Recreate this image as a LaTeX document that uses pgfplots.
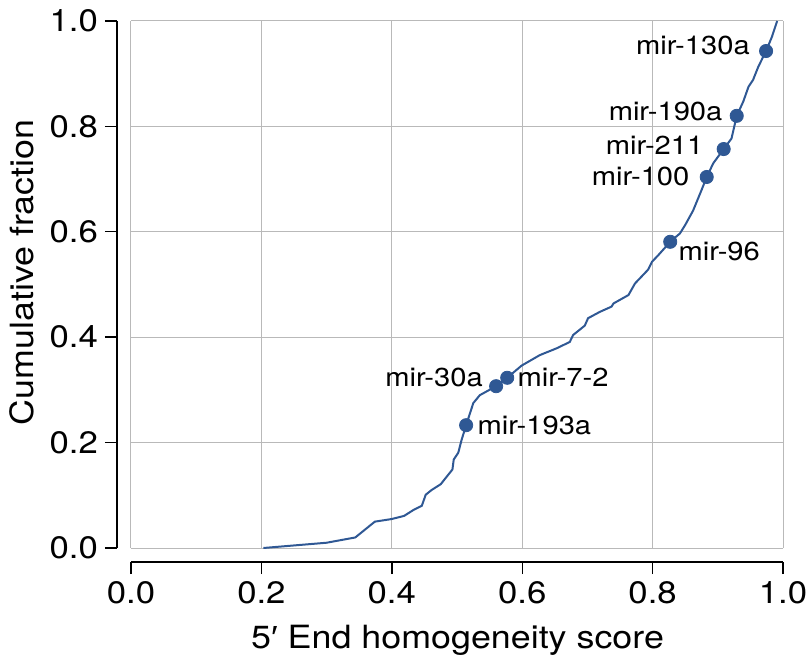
\documentclass[border=0pt]{standalone}
\usepackage{fontspec}
\setmainfont{TeX Gyre Heros}[FakeStretch=1.12]
\newfontfamily\libsans{Liberation Sans}[FakeStretch=1.12]
\usepackage{pgfplots}
\pgfplotsset{compat=1.18}
\definecolor{curve}{RGB}{47,88,148}
\pgfplotstableread{
x y
0.203 0.000
0.300 0.010
0.344 0.020
0.374 0.050
0.400 0.055
0.419 0.061
0.433 0.072
0.446 0.080
0.452 0.101
0.461 0.110
0.475 0.121
0.493 0.149
0.495 0.168
0.502 0.181
0.507 0.205
0.514 0.233
0.525 0.275
0.535 0.290
0.560 0.307
0.577 0.323
0.599 0.346
0.627 0.366
0.653 0.379
0.673 0.391
0.678 0.404
0.696 0.422
0.701 0.436
0.719 0.448
0.737 0.458
0.740 0.464
0.763 0.480
0.773 0.502
0.793 0.528
0.799 0.543
0.809 0.556
0.827 0.581
0.842 0.597
0.850 0.613
0.862 0.640
0.875 0.679
0.883 0.704
0.893 0.730
0.909 0.757
0.921 0.777
0.929 0.820
0.939 0.847
0.947 0.875
0.954 0.888
0.962 0.913
0.974 0.943
0.983 0.970
0.991 1.000
}\cdf
\pgfplotstableread{
x y
0.974 0.943
0.929 0.820
0.909 0.757
0.883 0.704
0.827 0.581
0.577 0.323
0.560 0.307
0.514 0.233
}\marked
\begin{document}
\begin{tikzpicture}
\begin{axis}[
  scale only axis, width=326pt, height=263.5pt,
  xmin=0, xmax=1, ymin=0, ymax=1,
  axis lines=left,
  axis line style={-, line width=0.7pt, black},
  axis x line shift=7pt, axis y line shift=7pt,
  tick align=outside, major tick length=6pt,
  tick style={black, line width=0.7pt},
  grid=major, grid style={gray!55, line width=0.5pt},
  xtick={0,0.2,0.4,0.6,0.8,1.0}, ytick={0,0.2,0.4,0.6,0.8,1.0},
  /pgf/number format/assume math mode=true,
  /pgf/number format/.cd, fixed, fixed zerofill, precision=1, /pgfplots/.cd,
  ticklabel style={font=\fontsize{15.5pt}{18pt}\selectfont},
  xlabel={5{\libsans ′} End homogeneity score},
  ylabel={Cumulative fraction},
  label style={font=\fontsize{16pt}{19pt}\selectfont},
  xlabel style={at={(rel axis cs:0.5008,-0.190)}, anchor=base},
  ylabel style={at={(rel axis cs:-0.167,0.523)}, anchor=center, rotate=0},
  clip=false,
]
\addplot[curve, line width=1pt, no markers] table[x=x,y=y] {\cdf};
\addplot[only marks, mark=*, mark size=3.3pt, mark options={fill=curve, draw=curve}] table[x=x,y=y] {\marked};
\begin{scope}[every node/.style={inner sep=0pt, font=\fontsize{13pt}{15pt}\selectfont}]
\node[anchor=east, xshift=-8pt, yshift=3pt] at (axis cs:0.974,0.943) {mir-130a};
\node[anchor=east, xshift=-7pt, yshift=2pt] at (axis cs:0.929,0.820) {mir-190a};
\node[anchor=east, xshift=-10pt, yshift=2pt] at (axis cs:0.909,0.757) {mir-211};
\node[anchor=east, xshift=-8.5pt, yshift=0pt] at (axis cs:0.883,0.704) {mir-100};
\node[anchor=west, xshift=4pt, yshift=-5pt] at (axis cs:0.827,0.581) {mir-96};
\node[anchor=west, xshift=5pt, yshift=0pt] at (axis cs:0.577,0.323) {mir-7-2};
\node[anchor=east, xshift=-6.5pt, yshift=4.3pt] at (axis cs:0.560,0.307) {mir-30a};
\node[anchor=west, xshift=5.5pt, yshift=0pt] at (axis cs:0.514,0.233) {mir-193a};
\end{scope}
\coordinate (BL) at (rel axis cs:-0.2009,-0.2258);
\coordinate (TR) at (rel axis cs:1.0414,1.0398);
\end{axis}
\pgfresetboundingbox
\path[use as bounding box] (BL) rectangle (TR);
\end{tikzpicture}
\end{document}
